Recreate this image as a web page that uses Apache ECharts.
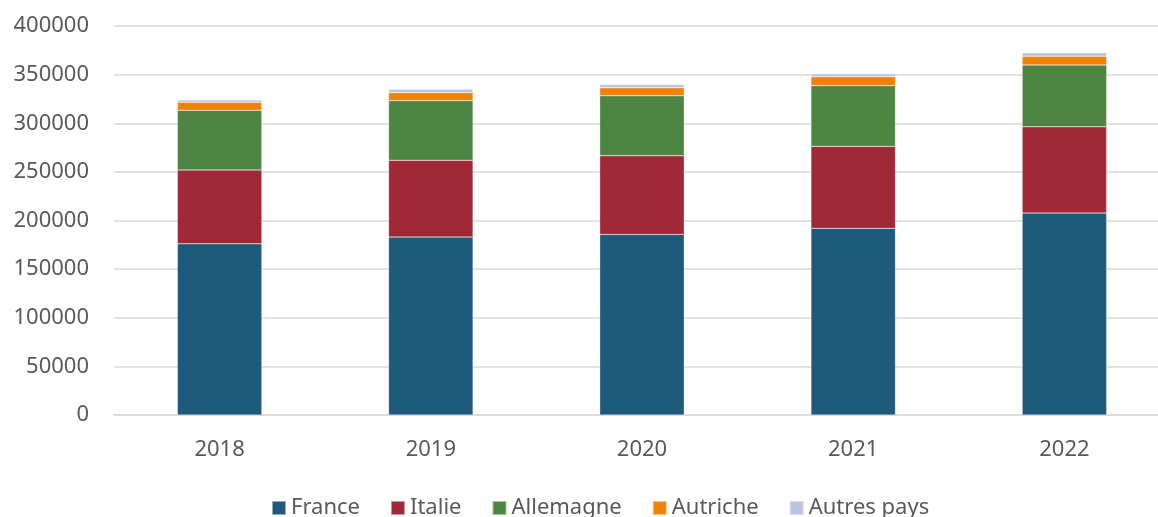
<!DOCTYPE html>
<html>
<head>
<meta charset="utf-8">
<script src="https://cdn.jsdelivr.net/npm/echarts@6/dist/echarts.min.js"></script>
<style>
  html, body { margin: 0; padding: 0; background: #fff; }
  #main { width: 1158px; height: 517px; }
</style>
</head>
<body>
<div id="main"></div>
<script>
var years = ['2018', '2019', '2020', '2021', '2022'];

var france = [176000, 183000, 185700, 192000, 207600];
var italie = [76000, 79000, 80800, 84200, 88700];
var allemagne = [61300, 61300, 61700, 62400, 63700];
var autriche = [8200, 8200, 8200, 9200, 9000];
var autres = [2500, 3400, 3400, 3100, 3400];

var yTicks = [0, 50000, 100000, 150000, 200000, 250000, 300000, 350000, 400000];

var textColor = '#595959';
var fontFamily = 'Noto Sans';

function serie(name, data, color) {
    return {
        name: name,
        type: 'bar',
        stack: 'total',
        barWidth: '40%',
        data: data,
        itemStyle: {
            color: color,
            borderColor: 'rgba(255,255,255,0.5)',
            borderWidth: 0.5
        }
    };
}

var option = {
    animation: false,
    grid: {
        left: 114,
        right: -12,
        top: 26,
        bottom: 102,
        outerBoundsMode: 'none'
    },
    legend: {
        top: 492,
        left: 266,
        itemWidth: 14,
        itemHeight: 14,
        itemGap: 30,
        icon: 'rect',
        textStyle: { color: textColor, fontSize: 22, fontFamily: fontFamily }
    },
    xAxis: {
        type: 'category',
        data: years,
        axisTick: { show: false },
        axisLine: { lineStyle: { color: '#d9d9d9', width: 1.5 } },
        axisLabel: { color: textColor, fontSize: 22, fontFamily: fontFamily, margin: 24 }
    },
    yAxis: {
        type: 'value',
        min: yTicks[0],
        max: yTicks[yTicks.length - 1],
        interval: 50000,
        axisLine: { show: false },
        axisTick: { show: false },
        axisLabel: {
            color: textColor, fontSize: 22, fontFamily: fontFamily, margin: 25,
            formatter: function (v) { return String(v); }
        },
        splitLine: { lineStyle: { color: '#d9d9d9', width: 1.5 } }
    },
    series: [
        serie('France', france, '#1d5a7c'),
        serie('Italie', italie, '#a02837'),
        serie('Allemagne', allemagne, '#4e8542'),
        serie('Autriche', autriche, '#f0820a'),
        serie('Autres pays', autres, '#b8c6e0')
    ]
};

var chart = echarts.init(document.getElementById('main'));
chart.setOption(option);
</script>
</body>
</html>
